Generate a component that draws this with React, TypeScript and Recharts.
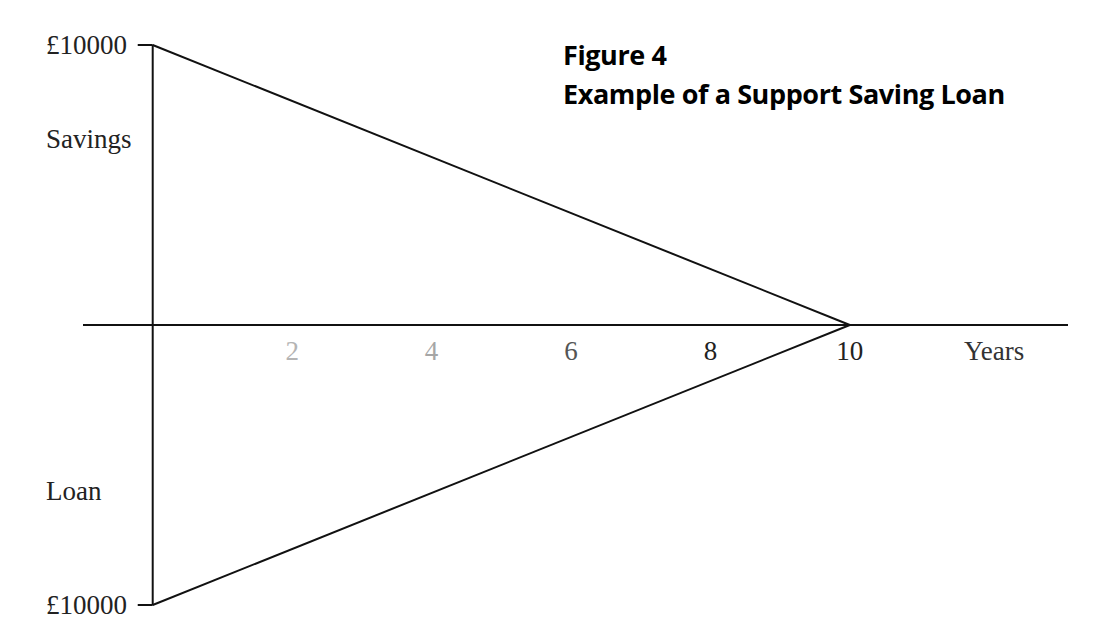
import { Line, LineChart, ReferenceLine, XAxis, YAxis } from 'recharts';

const years = [0, 10];
const savings = [10000, 0];
const loan = [10000, 0];

const xTicks = [2, 4, 6, 8, 10, 12.07];
const xTickLabels: Record<number, string> = { 12.07: 'Years' };
const xTickColors: Record<number, string> = {
  2: '#b4b4b4',
  4: '#a6a6a6',
  6: '#555',
  8: '#222',
  10: '#222',
  12.07: '#333',
};

const yTicks = [10000, 6650, -5930, -10000];
const yTickLabels: Record<number, string> = {
  10000: '£10000',
  6650: 'Savings',
  [-5930]: 'Loan',
  [-10000]: '£10000',
};

const data = years.map((year, i) => ({
  year,
  savings: savings[i],
  loan: -loan[i],
}));

const W = 1104;
const H = 641;
const MARGIN = { top: 45, right: 36, bottom: 35, left: 0 };
const X_AXIS_H = 1;
const ZERO_Y = MARGIN.top + (H - MARGIN.top - MARGIN.bottom - X_AXIS_H) / 2;
const SERIF = '"Liberation Serif", "Times New Roman", serif';

function XTick(props: any) {
  const v = props.payload.value;
  return (
    <text
      x={props.x}
      y={ZERO_Y + 35}
      textAnchor="middle"
      fontFamily={SERIF}
      fontSize={27}
      fill={xTickColors[v] ?? '#222'}
    >
      {xTickLabels[v] ?? String(v)}
    </text>
  );
}

function YTick(props: any) {
  const v = props.payload.value;
  return (
    <text x={46} y={props.y + 9} textAnchor="start" fontFamily={SERIF} fontSize={27} fill="#222">
      {yTickLabels[v]}
    </text>
  );
}

export default function App() {
  return (
    <div style={{ position: 'absolute', left: 0, top: 0, width: W, height: H, background: '#fff' }}>
      <LineChart width={W} height={H} data={data} margin={MARGIN}>
        <XAxis
          dataKey="year"
          type="number"
          domain={[-1, 13.13]}
          ticks={xTicks}
          axisLine={false}
          tickLine={false}
          height={X_AXIS_H}
          tick={<XTick />}
          interval={0}
        />
        <YAxis
          type="number"
          domain={[-10000, 10000]}
          ticks={yTicks}
          axisLine={false}
          tickLine={false}
          width={83}
          tick={<YTick />}
          interval={0}
        />
        <ReferenceLine y={0} stroke="#111" strokeWidth={2} />
        <ReferenceLine x={0} stroke="#111" strokeWidth={2} />
        <ReferenceLine
          segment={[
            { x: -0.215, y: 10000 },
            { x: 0, y: 10000 },
          ]}
          stroke="#111"
          strokeWidth={2}
        />
        <ReferenceLine
          segment={[
            { x: -0.215, y: -10000 },
            { x: 0, y: -10000 },
          ]}
          stroke="#111"
          strokeWidth={2}
        />
        <Line
          dataKey="savings"
          type="linear"
          stroke="#111"
          strokeWidth={2}
          dot={false}
          isAnimationActive={false}
        />
        <Line
          dataKey="loan"
          type="linear"
          stroke="#111"
          strokeWidth={2}
          dot={false}
          isAnimationActive={false}
        />
      </LineChart>
      <div
        style={{
          position: 'absolute',
          left: 563,
          top: 35,
          fontFamily: '"Open Sans", sans-serif',
          fontWeight: 700,
          fontSize: 27,
          lineHeight: '39px',
          letterSpacing: '-0.4px',
          color: '#000',
          whiteSpace: 'nowrap',
        }}
      >
        <div>Figure 4</div>
        <div>Example of a Support Saving Loan</div>
      </div>
    </div>
  );
}
